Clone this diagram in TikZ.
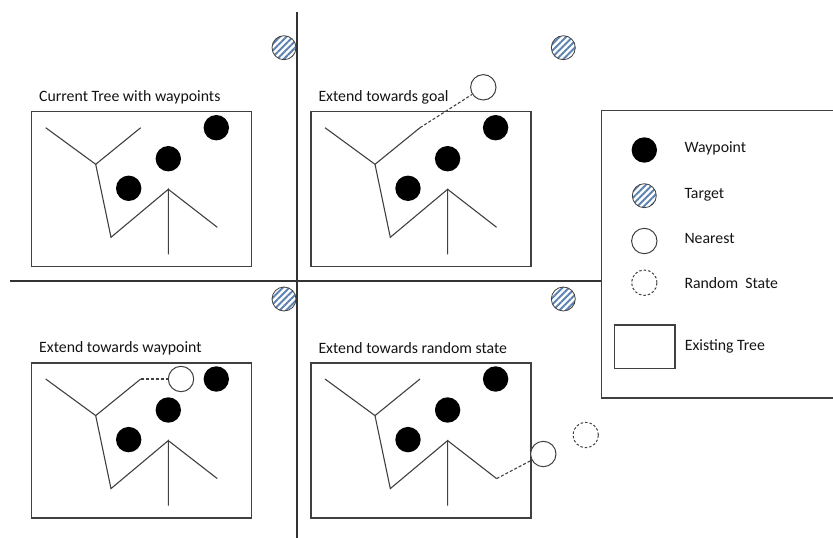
\documentclass[tikz,border=0pt]{standalone}
\usepackage{fontspec}
\setmainfont{Carlito}
\usetikzlibrary{patterns.meta}
\definecolor{stripe}{HTML}{5B82B0}
\definecolor{edge}{HTML}{404040}

\tikzset{
  treeline/.style={draw=edge, line width=1.1pt},
  panelbox/.style={draw=edge, line width=1.3pt, anchor=north west, inner sep=0pt,
                   minimum width=220pt, minimum height=155pt},
  waypoint/.style={circle, fill=black, minimum size=25.4pt, inner sep=0pt},
  target/.style={circle, draw=edge, line width=0.8pt, minimum size=24pt, inner sep=0pt,
                 pattern={Lines[angle=45,distance=4.6pt,line width=2pt]}, pattern color=stripe},
  nearest/.style={circle, draw=edge, line width=1pt, fill=white, minimum size=25.4pt, inner sep=0pt},
  randstate/.style={nearest, dash pattern=on 2.5pt off 2pt},
  link/.style={draw=edge, line width=1.1pt, dash pattern=on 3pt off 2pt},
  label/.style={anchor=west, font=\fontsize{15.8}{18}\selectfont, text=black!92, inner sep=0pt},
  divider/.style={draw=black!80, line width=1.5pt},
}

% One panel: frame, tree, three waypoints, the target and a caption
\newcommand\treepanel[3]{%
  \begin{scope}[shift={#2}, name prefix=#1-]
    \node[panelbox] (box) at (31,111) {};
    \coordinate (a) at (45.7,127.7);
    \coordinate (j) at (95.7,164.3);
    \coordinate (b) at (140.7,127.7);
    \coordinate (c) at (111,237.3);
    \coordinate (d) at (168.3,189.3);
    \coordinate (e) at (168.3,254.3);
    \coordinate (f) at (217.3,227.3);
    \draw[treeline] (a) -- (j) -- (b);
    \draw[treeline] (j) -- (c) -- (d) -- (e);
    \draw[treeline] (d) -- (f);
    \node[waypoint] (w1) at (128.7,188.3) {};
    \node[waypoint] (w2) at (168.3,158.7) {};
    \node[waypoint] (w3) at (216.3,127.7) {};
    \node[target] (tg) at (284,47.7) {};
    \node[label] (title) at (39,97) {#3};
  \end{scope}}

\begin{document}
\begin{tikzpicture}[x=1pt, y=-1pt]
  \useasboundingbox (0,0) rectangle (833,538);

  % quadrant dividers
  \coordinate (vtop) at (297,12);
  \coordinate (vbot) at (297,540);
  \coordinate (hleft) at (10,281);
  \coordinate (hright) at (601,281);
  \draw[divider] (vtop) -- (vbot);
  \draw[divider] (hleft) -- (hright);

  \treepanel{q1}{(0,0)}{Current Tree with waypoints}
  \treepanel{q2}{(279.3,0)}{Extend towards goal}
  \treepanel{q3}{(0,251.3)}{Extend towards waypoint}
  \treepanel{q4}{(279.3,251.3)}{Extend towards random state}

  % extensions
  \node[nearest] (q2-near) at (483.3,87.3) {};
  \draw[link] (q2-b) -- (q2-near);

  \node[nearest] (q3-near) at (181,379) {};
  \draw[link] (q3-b) -- (q3-near);

  \node[nearest] (q4-near) at (543.3,454) {};
  \draw[link] (q4-f) -- (q4-near);
  \node[randstate] (q4-rand) at (585.7,435) {};

  % legend (its right side runs past the page edge)
  \node[draw=edge, line width=1.3pt, anchor=north west, inner sep=0pt,
        minimum width=270pt, minimum height=287.3pt] (legend) at (601,110) {};
  \node[waypoint] (lg-way) at (644.3,150) {};
  \node[label] (lg-way-t) at (684.3,148.5) {Waypoint};
  \node[target] (lg-tg) at (644.3,195.7) {};
  \node[label] (lg-tg-t) at (684.3,195) {Target};
  \node[nearest] (lg-near) at (644.3,241) {};
  \node[label] (lg-near-t) at (684.3,238) {Nearest};
  \node[randstate] (lg-rand) at (644.3,282.7) {};
  \node[label] (lg-rand-t) at (684.3,282.7) {Random\ \ State};
  \node[draw=edge, line width=1.3pt, inner sep=0pt, minimum width=60.7pt,
        minimum height=43.7pt] (lg-tree) at (644.7,346.9) {};
  \node[label] (lg-tree-t) at (684.7,346.7) {Existing Tree};
\end{tikzpicture}
\end{document}
